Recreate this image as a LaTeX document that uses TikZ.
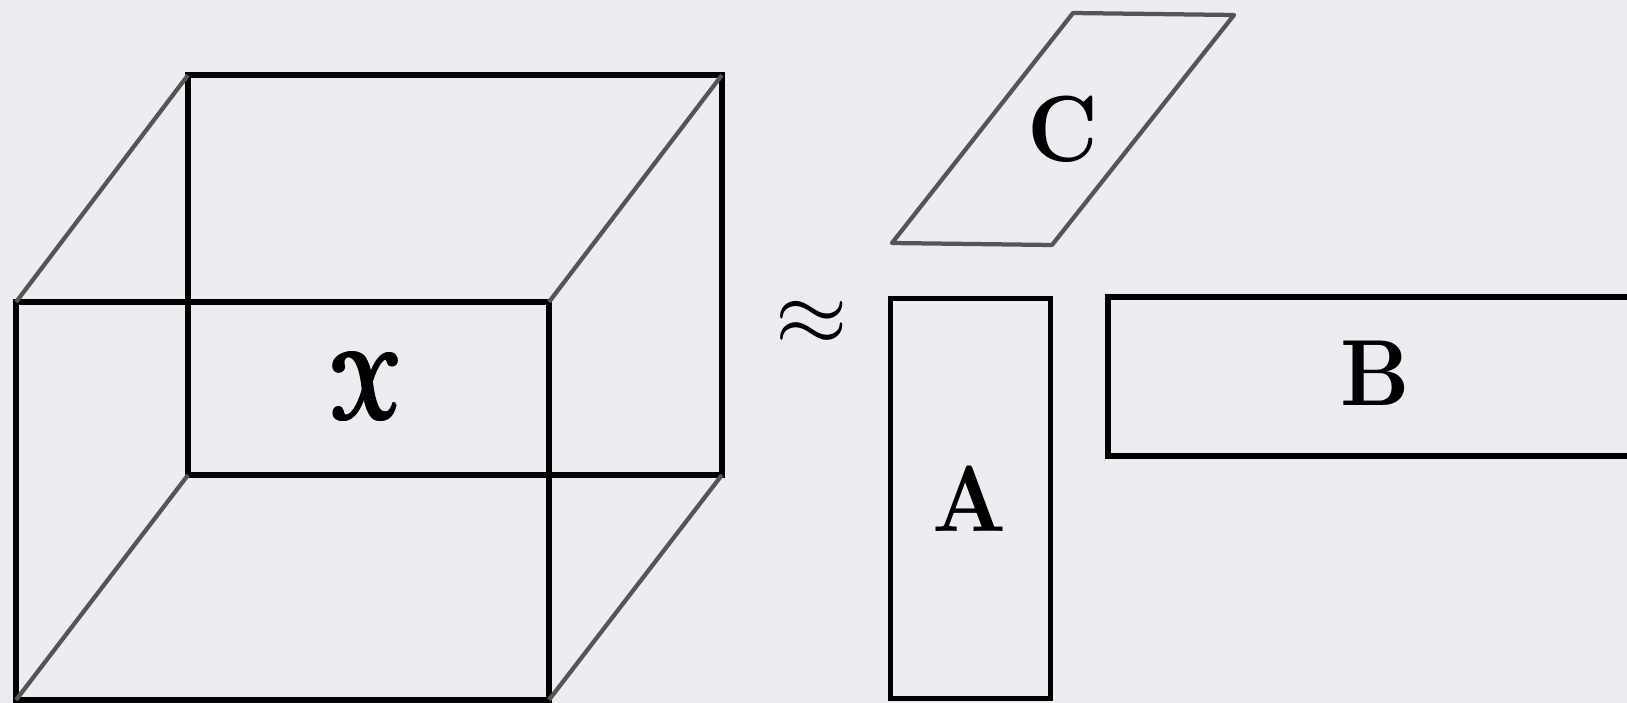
\documentclass[tikz,border=0pt]{standalone}
\usepackage{amsmath}
\usepackage{eucal}
\usepackage{graphicx}
\definecolor{bgcol}{RGB}{236,237,240}
\definecolor{edgegray}{RGB}{85,85,85}
\newcommand{\biglbl}[1]{\scalebox{4.85}[5.35]{#1}}
% dickere Striche durch Ueberdrucken
\newcommand{\heavy}[1]{\rlap{#1}\rlap{\raisebox{0.12pt}{#1}}\kern0.12pt\rlap{#1}\rlap{\raisebox{0.12pt}{#1}}\kern0.12pt#1}
\tikzset{
  face/.style={draw=black, line width=0.115cm, outer sep=0pt, inner sep=0pt},
  slant/.style={draw=edgegray, line width=0.085cm, line join=round},
}

\begin{document}
\begin{tikzpicture}[x=0.02cm, y=-0.02cm]
    % Hintergrund
    \fill[bgcol] (0,0) rectangle (1627,703);
    \clip (0,0) rectangle (1627,703);

    % Tensor als Quader
    \node[face, minimum width=10.68cm, minimum height=8cm] (back) at (455,275) {};
    \node[face, minimum width=10.66cm, minimum height=7.96cm] (front) at (282.5,501) {};
    \draw[slant] (front.north west) -- (back.north west);
    \draw[slant] (front.north east) -- (back.north east);
    \draw[slant] (front.south west) -- (back.south west);
    \draw[slant] (front.south east) -- (back.south east);
    \node (xlbl) at (366,386.5) {\biglbl{\heavy{$\boldsymbol{\mathcal{X}}$}}};

    \node (approx) at (812,323) {\scalebox{5.3}[5.2]{$\approx$}};

    % Faktor A
    \node[face, minimum width=3.2cm, minimum height=8cm] (amat) at (970.5,498.5) {};
    \node (albl) at (970,499) {\biglbl{$\mathbf{A}$}};

    % Faktor B (rechts abgeschnitten)
    \node[face, minimum width=10.68cm, minimum height=3.18cm] (bmat) at (1375,376.5) {};
    \node (blbl) at (1375,373.5) {\biglbl{$\mathbf{B}$}};

    % Faktor C
    \coordinate (c1) at (892,243);
    \coordinate (c2) at (1052,245);
    \coordinate (c3) at (1234,15);
    \coordinate (c4) at (1073,13);
    \draw[slant] (c1) -- (c2) -- (c3) -- (c4) -- cycle;
    \node (clbl) at (1063,129) {\biglbl{$\mathbf{C}$}};
\end{tikzpicture}
\end{document}
